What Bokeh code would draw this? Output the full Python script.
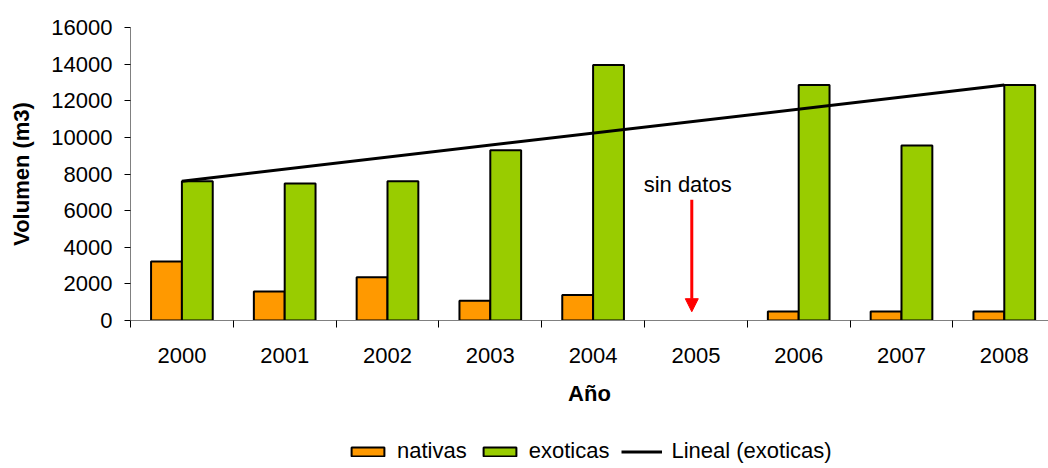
import numpy as np
from bokeh.plotting import figure
from bokeh.layouts import column
from bokeh.models import Range1d, FixedTicker, Legend, LegendItem, Arrow, NormalHead, ColumnDataSource
from bokeh.core.properties import value
from bokeh.embed import file_html
from bokeh.resources import INLINE

years = ["2000", "2001", "2002", "2003", "2004", "2005", "2006", "2007", "2008"]
nativas = [3220, 1580, 2360, 1080, 1390, np.nan, 490, 490, 490]
exoticas = [7600, 7480, 7600, 9300, 13950, np.nan, 12860, 9550, 12860]
y_ticks = [0, 2000, 4000, 6000, 8000, 10000, 12000, 14000, 16000]
note_text = "sin datos"
note_year = "2005"
arrow_top, arrow_bottom = 6600, 480

FONT = "Liberation Sans"
FS = "22px"
ORANGE = "#FF9900"
GREEN = "#99CC00"

centers = np.arange(len(years)) + 0.5
src = ColumnDataSource(dict(
    xn=centers - 0.15, xe=centers + 0.15,
    nat=nativas, exo=exoticas,
))

p = figure(width=1048, height=420, output_backend="svg", toolbar_location=None,
           x_range=Range1d(0, 8.93), y_range=Range1d(0, 16000),
           min_border_left=130, min_border_right=0, min_border_top=27, min_border_bottom=100)
p.outline_line_color = None
p.xgrid.visible = False
p.ygrid.visible = False

p.vbar(x="xn", top="nat", width=0.3, source=src, fill_color=ORANGE, line_color="black", line_width=2)
p.vbar(x="xe", top="exo", width=0.3, source=src, fill_color=GREEN, line_color="black", line_width=2)

# linear trendline of exoticas (least squares over the years with data)
xi = np.arange(len(years))
ex = np.array(exoticas, dtype=float)
mask = ~np.isnan(ex)
slope, intercept = np.polyfit(xi[mask], ex[mask], 1)
tx = [centers[0], centers[-1]]
ty = [intercept + slope * xi[0], intercept + slope * xi[-1]]
p.line(tx, ty, line_color="black", line_width=3)

# annotation
ni = years.index(note_year)
p.text([centers[ni] - 0.08], [7450], text=[note_text], text_font=value(FONT), text_font_size=FS,
       text_align="center", text_baseline="alphabetic", text_color="black")
p.add_layout(Arrow(x_start=centers[ni] - 0.04, y_start=arrow_top, x_end=centers[ni] - 0.04, y_end=arrow_bottom,
                   line_color="red", line_width=3,
                   end=NormalHead(size=13, fill_color="red", line_color="red")))

# axes
xa = p.xaxis[0]
xa.ticker = FixedTicker(ticks=list(centers), minor_ticks=list(range(len(years) + 1)))
xa.major_label_overrides = {float(c): y for c, y in zip(centers, years)}
xa.major_tick_out = 0
xa.major_tick_in = 0
xa.minor_tick_out = 7
xa.minor_tick_in = 0
xa.minor_tick_line_color = "black"
xa.axis_line_color = "#808080"
xa.major_label_text_font = FONT
xa.major_label_text_font_size = FS
xa.major_label_text_color = "black"
xa.major_label_standoff = 20
xa.axis_label = "Año"
xa.axis_label_text_font = FONT
xa.axis_label_text_font_size = FS
xa.axis_label_text_font_style = "bold"
xa.axis_label_text_color = "black"
xa.axis_label_standoff = 15

ya = p.yaxis[0]
ya.ticker = FixedTicker(ticks=y_ticks)
ya.minor_tick_out = 0
ya.minor_tick_in = 0
ya.major_tick_out = 6
ya.major_tick_in = 0
ya.axis_line_color = "#808080"
ya.major_tick_line_color = "black"
ya.major_label_text_font = FONT
ya.major_label_text_font_size = FS
ya.major_label_text_color = "black"
ya.major_label_standoff = 12
ya.axis_label = "Volumen (m3)"
ya.axis_label_text_font = FONT
ya.axis_label_text_font_size = FS
ya.axis_label_text_font_style = "bold"
ya.axis_label_text_color = "black"
ya.axis_label_standoff = 14

# legend strip below the chart (proxy glyphs lie outside its visible range)
pl = figure(width=1048, height=48, output_backend="svg", toolbar_location=None,
            x_range=Range1d(0, 1), y_range=Range1d(0, 1),
            min_border_left=0, min_border_right=0, min_border_top=0, min_border_bottom=0)
pl.axis.visible = False
pl.grid.visible = False
pl.outline_line_color = None
ln = pl.vbar(x=[5], top=[-5], bottom=[-6], width=0.3, fill_color=ORANGE, line_color="black", line_width=2)
le = pl.vbar(x=[5], top=[-5], bottom=[-6], width=0.3, fill_color=GREEN, line_color="black", line_width=2)
ll = pl.line(x=[5, 6], y=[-5, -5], line_color="black", line_width=3)
legend = Legend(items=[LegendItem(label="nativas", renderers=[ln]),
                       LegendItem(label="exoticas", renderers=[le]),
                       LegendItem(label="Lineal (exoticas)", renderers=[ll])],
                orientation="horizontal", location=(217, 4),
                label_text_font=FONT, label_text_font_size=FS, label_text_color="black",
                glyph_width=41, glyph_height=11, label_standoff=9, spacing=12,
                padding=0, margin=0, border_line_color=None, background_fill_alpha=0)
pl.add_layout(legend, "center")

layout = column(p, pl, spacing=0)
open("out.html", "w").write(file_html(layout, INLINE))
